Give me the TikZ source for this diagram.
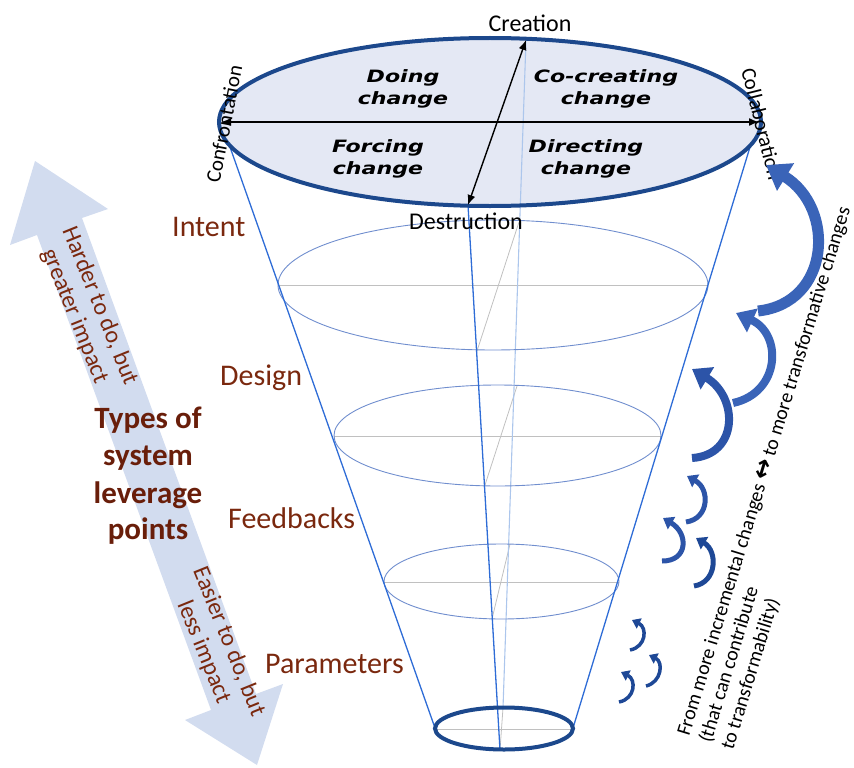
\documentclass[tikz,border=0pt]{standalone}
\usepackage{fontspec}
\setmainfont{Carlito}
\newfontfamily\dejavu{DejaVu Sans}
\usetikzlibrary{arrows.meta,calc}
\definecolor{labbrown}{RGB}{122,40,14}
\definecolor{titbrown}{RGB}{105,30,10}
\definecolor{conelin}{RGB}{46,108,214}
\definecolor{ringcol}{RGB}{112,142,206}
\definecolor{lightax}{RGB}{172,198,236}
\definecolor{grayax}{RGB}{192,192,192}
\definecolor{topfill}{RGB}{228,232,244}
\definecolor{darkring}{RGB}{28,72,140}
\definecolor{bigarr}{RGB}{210,220,239}
\definecolor{carA}{RGB}{58,100,184}
\definecolor{carB}{RGB}{44,84,168}
\definecolor{carC}{RGB}{30,72,150}
\newcommand\widetxt[1]{\scalebox{1.3}[1]{#1}}
\newcommand\carr[7]{%
  \coordinate (cT) at (#1); \coordinate (cB) at (#2); \coordinate (cH) at (#3);
  \coordinate (cM) at ($(cT)!0.5!(cH)$);
  \coordinate (cV) at ($(cB)-(cM)$);
  \draw[line width=#4pt, draw=#7, -{Triangle[length=#5pt,width=#6pt]}]
    (cT) .. controls ($(cT)+1.333*(cV)+0.1*(cH)-0.1*(cT)$)
    and ($(cH)+1.333*(cV)+0.25*(cT)-0.25*(cH)$) .. (cH);}
\begin{document}
\begin{tikzpicture}[x=1pt,y=-1pt,
  lvl/.style={font=\fontsize{30pt}{36pt}\selectfont, text=labbrown, inner sep=0pt, anchor=base west},
  tit/.style={font=\fontsize{31pt}{37pt}\selectfont\bfseries, text=titbrown, inner sep=0pt, anchor=base},
  side/.style={font=\fontsize{24pt}{27pt}\selectfont, text=labbrown, inner sep=0pt, align=center},
  pole/.style={font=\fontsize{24pt}{28pt}\selectfont, inner sep=0pt},
  tilt/.style={font=\fontsize{21pt}{24pt}\selectfont, inner sep=0pt},
  quad/.style={font=\dejavu\fontsize{17pt}{22pt}\selectfont\bfseries\itshape, inner sep=0pt, align=center},
  rtxt/.style={font=\fontsize{20pt}{23pt}\selectfont, inner sep=0pt, anchor=base west, rotate=73},
  cone/.style={draw=conelin, line width=1.3pt},
  ring/.style={draw=ringcol, line width=0.9pt},
  gax/.style={draw=grayax, line width=0.8pt},
  bax/.style={draw=black, line width=1.4pt, {Latex[length=10pt,width=8pt]}-{Latex[length=10pt,width=8pt]}}]
\useasboundingbox (0,0) rectangle (854,768);

% big double arrow on the left
\fill[bigarr] (35,161) -- (108,209) -- (82,218) -- (256,694) -- (283,684) -- (257,765)
  -- (185,720) -- (211,710) -- (37,235) -- (10,245) -- cycle;

% top ellipse fill
\fill[topfill] (490,122) ellipse [x radius=271pt, y radius=84pt];

% gray axes in rings
\draw[gax] (278,285) -- (708,285);
\draw[gax] (519,222) -- (477,351);
\draw[gax] (334,436) -- (661,436);
\draw[gax] (517,386) -- (485,485);
\draw[gax] (384,582) -- (619,582);
\draw[gax] (510,544) -- (492,619);
\draw[gax] (435,729) -- (573,729);
\draw[gax] (503,708) -- (500,750);

% light axis
\draw[draw=lightax, line width=1.1pt] (526,40) -- (503,708);

% rings
\draw[ring] (493,285) ellipse [x radius=215pt, y radius=65pt];
\draw[ring] (497.5,435.5) ellipse [x radius=163.5pt, y radius=50.5pt];
\draw[ring] (501.5,581.5) ellipse [x radius=117.5pt, y radius=37.5pt];

% cone lines
\coordinate (tl) at (230,147);
\coordinate (bl) at (435,728);
\coordinate (tr) at (750,147);
\coordinate (br) at (573,728);
\coordinate (tc) at (468,205);
\coordinate (bc) at (500,750);
\draw[cone] (tl) -- (bl);
\draw[cone] (tr) -- (br);
\draw[cone] (tc) -- (bc);

% top and bottom ellipses
\draw[draw=darkring, line width=4pt] (490,122) ellipse [x radius=271pt, y radius=84pt];
\draw[draw=darkring, line width=4pt] (504,728.5) ellipse [x radius=69pt, y radius=21pt];

% axes of the top ellipse
\coordinate (conf) at (221,122);
\coordinate (coll) at (759,122);
\coordinate (crea) at (526,40);
\coordinate (dest) at (468,205);
\draw[bax] (conf) -- (coll);
\draw[bax] (dest) -- (crea);

% quadrant texts
\node[quad] (q1) at (403,89) {\widetxt{Doing}\\\widetxt{change}};
\node[quad] (q2) at (606,89) {\widetxt{Co-creating}\\\widetxt{change}};
\node[quad] (q3) at (378,159) {\widetxt{Forcing}\\\widetxt{change}};
\node[quad] (q4) at (586,159) {\widetxt{Directing}\\\widetxt{change}};

% pole labels
\node[pole] (creation) at (530,23) {Creation};
\node[pole] (destruction) at (466,221) {Destruction};
\node[tilt, rotate=79] (confront) at (224,124) {Confrontation};
\node[tilt, rotate=-76] (collab) at (762,124) {Collaboration};

% level labels
\node[lvl] (intent) at (172,236) {Intent};
\node[lvl] (design) at (220,385) {Design};
\node[lvl] (feedb) at (228,528) {Feedbacks};
\node[lvl] (param) at (265,673) {Parameters};

% title
\node[tit] (t1) at (148,428) {Types of};
\node[tit] (t2) at (148,465) {system};
\node[tit] (t3) at (148,503) {leverage};
\node[tit] (t4) at (148,539) {points};

% arrow side texts
\node[side, rotate=-68] (harder) at (87,311) {Harder to do, but\\greater impact};
\node[side, rotate=-68] (easier) at (216,647) {Easier to do, but\\less impact};

% right side texts
\node[rtxt] (r1) at (689,737) {From more incremental changes {\dejavu\bfseries\fontsize{25pt}{25pt}\selectfont ↔} to more transformative changes};
\node[rtxt] (r2) at (711,744) {(that can contribute};
\node[rtxt] (r3) at (733,751) {to transformability)};

% curved arrows
\carr{758,311}{816,243}{766,165}{11}{23}{31}{carA}
\carr{733,403}{770,357}{736,313}{8}{18}{25}{carA}
\carr{692,458}{727,418}{692,369}{8}{18}{25}{carB}
\carr{686,522}{704,500}{687,476}{5}{10}{14}{carB}
\carr{662,561}{682,543}{663,518}{5}{10}{14}{carB}
\carr{694,586}{712,563}{696,538}{5}{10}{14}{carC}
\carr{630,650}{643,635}{632,620}{3.5}{8}{11}{carC}
\carr{646,686}{659,670}{649,655}{3.5}{8}{11}{carC}
\carr{619,702}{632,687}{621,672}{3.5}{8}{11}{carC}
\end{tikzpicture}
\end{document}
